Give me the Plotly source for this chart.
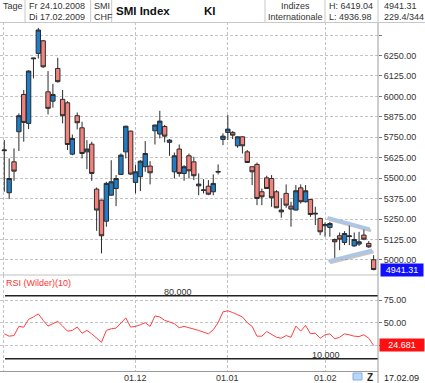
import plotly.graph_objects as go

# ---------------- data ----------------
opens = [5668, 5411, 5600, 5784, 6012, 5835, 6230, 6263, 6340, 6028,
         5971, 6171, 5982, 5961, 5647, 5882, 5808, 5661, 5708, 5433,
         5366, 5237, 5396, 5437, 5523, 5661, 5788, 5474, 5509, 5570,
         5574, 5790, 5770, 5816, 5719, 5539, 5678, 5529, 5637, 5600,
         5453, 5425, 5451, 5417, 5537, 5737, 5780, 5780, 5698, 5753,
         5661, 5570, 5584, 5417, 5502, 5498, 5417, 5294, 5407, 5329,
         5305, 5441, 5356, 5370, 5286, 5254, 5209, 5199, 5125, 5148,
         5107, 5143, 5086, 5097, 5152, 5101, 5001]
highs = [5733, 5621, 5682, 5896, 6039, 6160, 6236, 6419.04, 6345, 6155,
         6077, 6236, 6039, 5971, 5767, 5902, 5845, 5733, 5723, 5443,
         5368, 5478, 5610, 5519, 5651, 5820, 5790, 5580, 5610, 5727,
         5604, 5826, 5912, 5825, 5739, 5657, 5706, 5580, 5651, 5631,
         5529, 5494, 5488, 5523, 5584, 5774, 5886, 5788, 5755, 5755,
         5672, 5571, 5596, 5437, 5515, 5519, 5427, 5376, 5462, 5356,
         5458, 5462, 5458, 5371, 5325, 5258, 5229, 5233, 5131, 5168,
         5176, 5233, 5168, 5172, 5203, 5115, 5029]
lows = [5417, 5372, 5484, 5666, 5723, 5800, 6110, 6232, 6175, 5890,
        5931, 6085, 5835, 5672, 5640, 5798, 5621, 5555, 5484, 5178,
        5040, 5203, 5392, 5329, 5520, 5621, 5519, 5407, 5421, 5539,
        5462, 5706, 5743, 5719, 5637, 5498, 5509, 5484, 5498, 5488,
        5396, 5407, 5396, 5396, 5523, 5702, 5733, 5739, 5686, 5651,
        5594, 5458, 5335, 5335, 5435, 5325, 5317, 5258, 5319, 5203,
        5303, 5345, 5351, 5264, 5213, 5152, 5142, 5142, 5009, 5060,
        5091, 5091, 5080, 5086, 5121, 5074, 4936.98]
closes = [5672, 5498, 5543, 5882, 5841, 6155, 6234, 6406, 6181, 5927,
          6012, 6090, 5882, 5706, 5743, 5839, 5651, 5678, 5529, 5305,
          5148, 5468, 5478, 5498, 5641, 5818, 5525, 5539, 5604, 5651,
          5533, 5825, 5849, 5757, 5733, 5637, 5529, 5570, 5545, 5515,
          5464, 5428, 5402, 5468, 5541, 5757, 5800, 5763, 5753, 5698,
          5596, 5539, 5376, 5386, 5437, 5380, 5319, 5305, 5335, 5311,
          5423, 5356, 5423, 5278, 5282, 5172, 5217, 5223, 5111, 5127,
          5162, 5147, 5125, 5111, 5127, 5080, 4941.31]
rsi = [37.6, 35.0, 35.7, 45.9, 45.0, 53.8, 56.4, 59.8, 52.6, 46.2,
       48.9, 51.5, 46.2, 40.6, 41.4, 45.1, 38.3, 41.4, 37.6, 32.7,
       28.2, 41.4, 43.2, 44.0, 50.0, 55.3, 45.1, 45.9, 47.7, 50.0,
       45.9, 57.5, 56.4, 52.6, 50.8, 48.9, 44.4, 45.9, 44.4, 43.2,
       41.4, 39.5, 37.6, 42.1, 50.0, 62.0, 63.2, 61.3, 59.0, 56.4,
       50.0, 45.9, 35.0, 35.0, 40.2, 36.5, 33.8, 32.7, 35.7, 33.8,
       46.2, 40.6, 47.0, 37.6, 38.3, 32.7, 36.5, 37.6, 32.0, 33.8,
       37.6, 36.5, 35.0, 34.6, 36.5, 32.7, 24.681]
idx = list(range(len(closes)))

# month ticks (candle index of first trading day) and labels
month_tick_idx = [-0.2, 27, 46, 66]
month_tick_labels = ["", "01.12", "01.01", "01.02"]

price_ticks = [5000, 5125, 5250, 5375, 5500, 5625, 5750, 5875, 6000, 6125, 6250, 6375]
price_labels = ["5000.00", "5125.00", "5250.00", "5375.00", "5500.00", "5625.00",
                "5750.00", "5875.00", "6000.00", "6125.00", "6250.00", ""]
rsi_ticks = [25, 50, 75]
rsi_labels = ["", "50.00", "75.00"]
rsi_levels = [80, 10]
rsi_level_labels = ["80.000", "10.000"]

# triangle trend lines (candle index, price)
tri_upper_x = [66.5, 75.2]
tri_upper_y = [5258, 5188]
tri_lower_x = [66.7, 75.7]
tri_lower_y = [4993, 5060]

# header texts
hdr_period = ["Fr 24.10.2008", "Di 17.02.2009"]
hdr_hl = ["H: 6419.04", "L: 4936.98"]
hdr_last = ["4941.31", "229.4/344"]
last_date = "17.02.09"

FONT = "Liberation Sans"
W, H = 425, 383
ML, MR, MT, MB = 0, 47, 22, 12
PW = W - ML - MR
PH = H - MT - MB
XR = [-0.885, 76.9]


def px(x):
    return (x - ML) / PW


def py(y):
    return (H - MB - y) / PH


fig = go.Figure()

fig.add_trace(go.Candlestick(
    x=idx, open=opens, high=highs, low=lows, close=closes,
    xaxis="x", yaxis="y", whiskerwidth=0,
    increasing=dict(line=dict(color="#2b2b2b", width=1), fillcolor="#1f7cc6"),
    decreasing=dict(line=dict(color="#2b2b2b", width=1), fillcolor="#f3827c"),
    showlegend=False, hoverinfo="skip"))

# trend lines with soft shadow
for tx, ty in [(tri_upper_x, tri_upper_y), (tri_lower_x, tri_lower_y)]:
    fig.add_trace(go.Scatter(x=[v + 0.3 for v in tx], y=[v - 10 for v in ty], mode="lines",
                             line=dict(color="rgba(90,90,90,0.35)", width=3),
                             xaxis="x", yaxis="y", showlegend=False, hoverinfo="skip"))
    fig.add_trace(go.Scatter(x=tx, y=ty, mode="lines",
                             line=dict(color="#adc6e6", width=3.5),
                             xaxis="x", yaxis="y", showlegend=False, hoverinfo="skip"))

fig.add_trace(go.Scatter(x=idx, y=rsi, mode="lines", line=dict(color="#ff4040", width=1),
                         xaxis="x2", yaxis="y2", showlegend=False, hoverinfo="skip"))

grid = dict(showgrid=True, gridcolor="#c4c4c4", griddash="3px,2px", gridwidth=1, zeroline=False)
fig.update_layout(
    width=W, height=H, margin=dict(l=ML, r=MR, t=MT, b=MB),
    paper_bgcolor="white", plot_bgcolor="white",
    font=dict(family=FONT, size=9, color="#333"),
    showlegend=False, boxgap=0.1, boxgroupgap=0,
    xaxis=dict(domain=[0, 1], range=XR, anchor="y", tickvals=month_tick_idx,
               showticklabels=False, ticks="", rangeslider=dict(visible=False), **grid),
    xaxis2=dict(domain=[0, 1], range=XR, anchor="y2", tickvals=month_tick_idx,
                showticklabels=False, ticks="", showline=True, linecolor="#9a9a9a", **grid),
    yaxis=dict(domain=[py(275), 1], range=[4908, 6455], side="right", anchor="x",
               tickvals=price_ticks, ticktext=price_labels, ticks="outside", ticklen=3,
               tickcolor="#777", tickfont=dict(size=9, color="#333"), **grid),
    yaxis2=dict(domain=[0, py(275)], range=[-3.7, 103], side="right", anchor="x2",
                tickvals=rsi_ticks, ticktext=rsi_labels, ticks="outside", ticklen=3,
                tickcolor="#777", tickfont=dict(size=9, color="#333"), **grid),
)

shapes = []
for lv in rsi_levels:
    shapes.append(dict(type="line", xref="paper", yref="y2", x0=px(5), x1=1, y0=lv, y1=lv,
                       line=dict(color="#222", width=1.5)))
shapes.append(dict(type="line", xref="paper", yref="paper", x0=0, x1=1, y0=py(275), y1=py(275),
                   line=dict(color="#c0c0c0", width=1)))
shapes.append(dict(type="line", xref="paper", yref="paper", x0=1, x1=1, y0=py(H), y1=py(22),
                   line=dict(color="#9a9a9a", width=1)))
shapes.append(dict(type="line", xref="paper", yref="paper", x0=px(0), x1=px(W), y0=py(22.5), y1=py(22.5),
                   line=dict(color="#c8c8c8", width=1)))
for bx in [25, 90.7, 111.7, 265, 325, 378]:
    shapes.append(dict(type="line", xref="paper", yref="paper", x0=px(bx), x1=px(bx), y0=py(0), y1=py(22.5),
                       line=dict(color="#c8c8c8", width=1)))
shapes.append(dict(type="rect", xref="paper", yref="paper", x0=px(353), x1=px(362), y0=py(380), y1=py(373),
                   fillcolor="#b9d7f5", line=dict(color="#86b0dc", width=1)))
fig.update_layout(shapes=shapes)

ann = []


def txt(x, y, s, size=9, color="#333", bold=False, anchor="left"):
    ann.append(dict(xref="paper", yref="paper", x=px(x), y=py(y), text=("<b>%s</b>" % s) if bold else s,
                    showarrow=False, xanchor=anchor, yanchor="middle", borderpad=0,
                    font=dict(family=FONT, size=size, color=color)))


txt(2, 6.5, "Tage")
txt(28, 6.5, hdr_period[0])
txt(28, 17.5, hdr_period[1])
txt(93, 6.5, "SMI")
txt(93, 17.5, "CHF")
txt(115, 11, "SMI Index", size=11.5, color="#111", bold=True)
txt(203, 11, "KI", size=11.5, color="#111", bold=True)
txt(295, 6.5, "Indizes", anchor="center")
txt(295, 17.5, "Internationale", anchor="center")
txt(328, 6.5, hdr_hl[0])
txt(328, 17.5, hdr_hl[1])
txt(383, 6.5, hdr_last[0])
txt(383, 17.5, hdr_last[1])
txt(5, 283, "RSI (Wilder)(10)", color="#ff3333")
txt(383, 377.5, last_date, color="#222")
txt(370, 377, "Z", size=10, color="#222", bold=True, anchor="center")

# month labels under the RSI panel
for ti, tl in zip(month_tick_idx, month_tick_labels):
    if tl:
        ann.append(dict(xref="x2", yref="paper", x=ti, y=py(377.5), text=tl, showarrow=False,
                        xanchor="center", yanchor="middle", borderpad=0,
                        font=dict(family=FONT, size=9, color="#333")))

for lv, lab, cx in zip(rsi_levels, rsi_level_labels, [177.5, 326]):
    ann.append(dict(xref="paper", yref="y2", x=px(cx), y=lv, text=lab, showarrow=False,
                    xanchor="center", yanchor="bottom", yshift=-2, borderpad=0,
                    font=dict(family=FONT, size=9, color="#333")))

ann.append(dict(xref="paper", yref="y", x=px(380), y=closes[-1], text=f"{closes[-1]:.2f}",
                showarrow=False, xanchor="left", yanchor="middle", bgcolor="#1010ff",
                borderpad=1, width=40, align="center",
                font=dict(family=FONT, size=9, color="white")))
ann.append(dict(xref="paper", yref="y2", x=px(379), y=rsi[-1], text=f"{rsi[-1]:.3f}",
                showarrow=False, xanchor="left", yanchor="middle", bgcolor="#ff1010",
                borderpad=1, width=42, align="center",
                font=dict(family=FONT, size=9, color="white")))
fig.update_layout(annotations=ann)

fig.write_html("out.html", config={"displayModeBar": False},
               post_script="document.body.style.margin='0px';document.body.style.overflow='hidden';")
